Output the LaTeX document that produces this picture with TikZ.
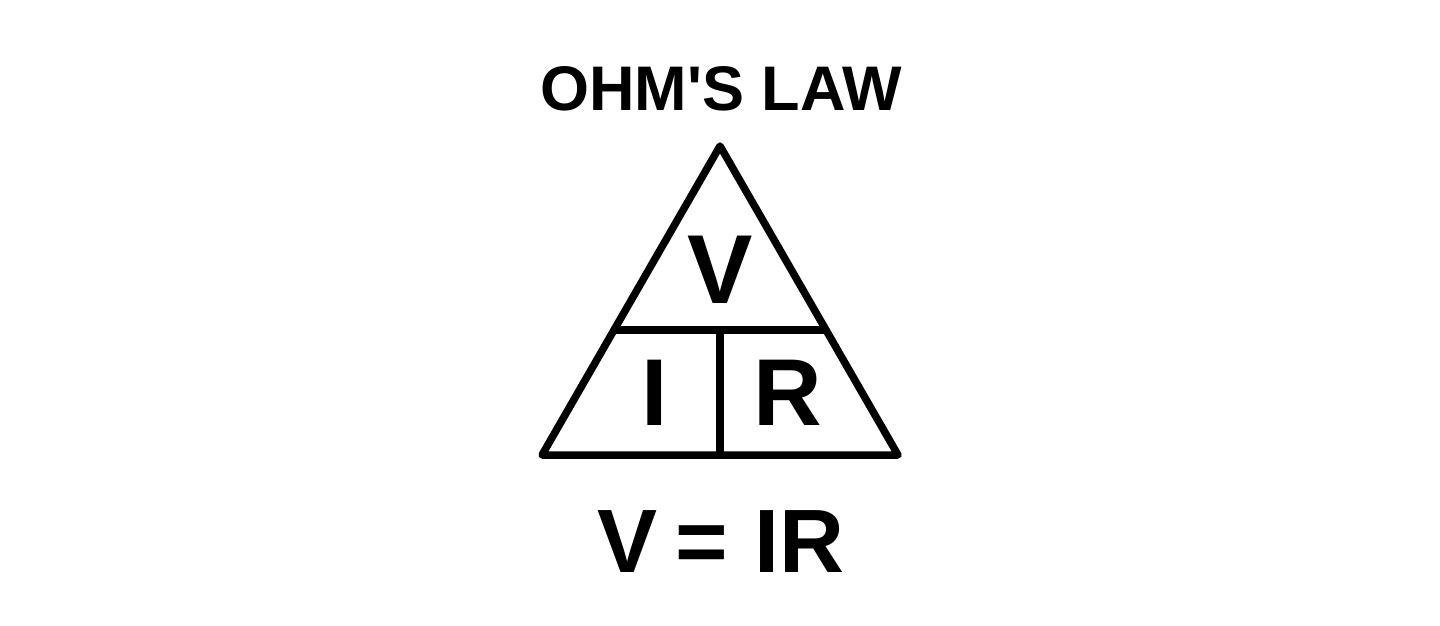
\documentclass[tikz,border=0pt]{standalone}
\usepackage{fontspec}
\setmainfont{Liberation Sans}
\begin{document}
\begin{tikzpicture}[x=1pt,y=-1pt,
  edge/.style={line width=7.5pt,line join=round,line cap=round,black},
  title/.style={font=\fontsize{63}{70}\selectfont\bfseries,anchor=base,inner sep=0pt},
  letter/.style={font=\fontsize{95}{100}\selectfont\bfseries,anchor=base,inner sep=0pt},
  formula/.style={font=\fontsize{90}{100}\selectfont\bfseries,anchor=base,inner sep=0pt}]
\useasboundingbox (0,0) rectangle (1440,625);
\coordinate (apex) at (720,146);
\coordinate (bl) at (542,455);
\coordinate (br) at (898,455);
\coordinate (ml) at (614,330);
\coordinate (mr) at (826,330);
\coordinate (mm) at (720,330);
\coordinate (bm) at (720,455);
\draw[edge] (apex) -- (br) -- (bl) -- cycle;
\draw[edge] (ml) -- (mr);
\draw[edge] (mm) -- (bm);
\node[title] (t) at (721,110) {OHM\textquotesingle S LAW};
\node[letter,font=\fontsize{98}{100}\selectfont\bfseries] (v) at (720,303) {V};
\node[letter] (i) at (655,425) {I};
\node[letter] (r) at (788,425) {R};
\node[formula] (f) at (721,572) {V\hspace{18pt}=\hspace{26pt}IR};
\end{tikzpicture}
\end{document}
